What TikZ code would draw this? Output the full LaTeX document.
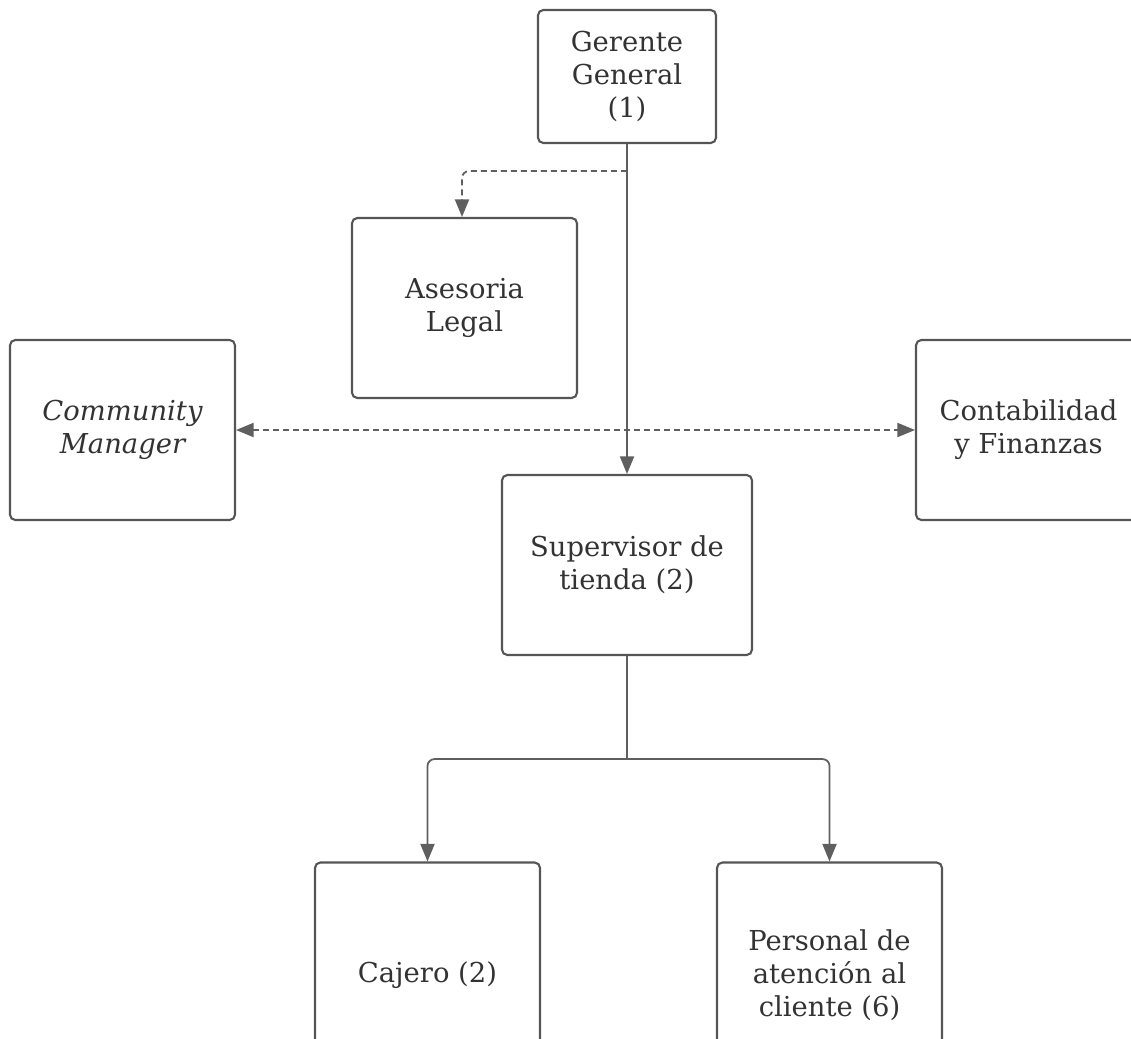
\documentclass[tikz,border=0pt]{standalone}
\usepackage{fontspec}
\setmainfont{DejaVu Serif}
\usepackage{xcolor}
\usepackage{tikz}
\usetikzlibrary{arrows.meta,positioning,calc}
\definecolor{boxline}{RGB}{85, 85, 85}
\definecolor{linkgray}{RGB}{95, 95, 95}
\definecolor{textgray}{RGB}{51, 51, 51}

\begin{document}
\begin{tikzpicture}[x=0.02cm,y=-0.02cm,
    role/.style={draw=boxline,line width=1.2pt,rounded corners=3pt,fill=white,
        minimum width=4.5cm,minimum height=3.6cm,align=center,text=textgray,
        font=\fontsize{15.6}{18.8}\selectfont},
    link/.style={draw=linkgray,line width=1pt,rounded corners=4pt,
        -{Triangle[length=10pt,width=8pt]}},
    advice/.style={link,dash pattern=on 3.4pt off 2.3pt}]
    % page frame
    \useasboundingbox (0,0) rectangle (1131,1038);
    \clip (0,0) rectangle (1131,1038);

    % top of the chart
    \node[role,minimum width=3.56cm,minimum height=2.66cm] (gerente) at (627,76.5) {Gerente\\General\\(1)};
    \node[role] (asesoria) at (464.5,308) {Asesoria\\Legal};

    % staff on both sides
    \node[role] (community) at (122.5,430) {\itshape Community\\\itshape Manager};
    \node[role] (contabilidad) at (1028.5,430) {Contabilidad\\y Finanzas};

    % store level
    \node[role,minimum width=5cm] (supervisor) at (627,565) {Supervisor de\\tienda (2)};
    \node[role,minimum height=4.5cm] (cajero) at (427.5,975) {Cajero (2)};
    \node[role,minimum height=4.5cm] (personal) at (829.5,975) {Personal de\\atención al\\cliente (6)};

    % connectors
    \coordinate (asesoriaSplit) at ($(gerente.south)+(0,27)$);
    \coordinate (storeSplit) at ($(supervisor.south)+(0,103)$);
    \draw[link] (gerente.south) -- (supervisor.north);
    \draw[advice] (asesoriaSplit) -| ([xshift=-2.5*0.02cm]asesoria.north);
    \draw[advice,{Triangle[length=10pt,width=8pt]}-{Triangle[length=10pt,width=8pt]}] (community.east) -- (contabilidad.west);
    \draw[link,-] (supervisor.south) -- (storeSplit);
    \draw[link] (storeSplit) -| (cajero.north);
    \draw[link] (storeSplit) -| (personal.north);
\end{tikzpicture}
\end{document}
